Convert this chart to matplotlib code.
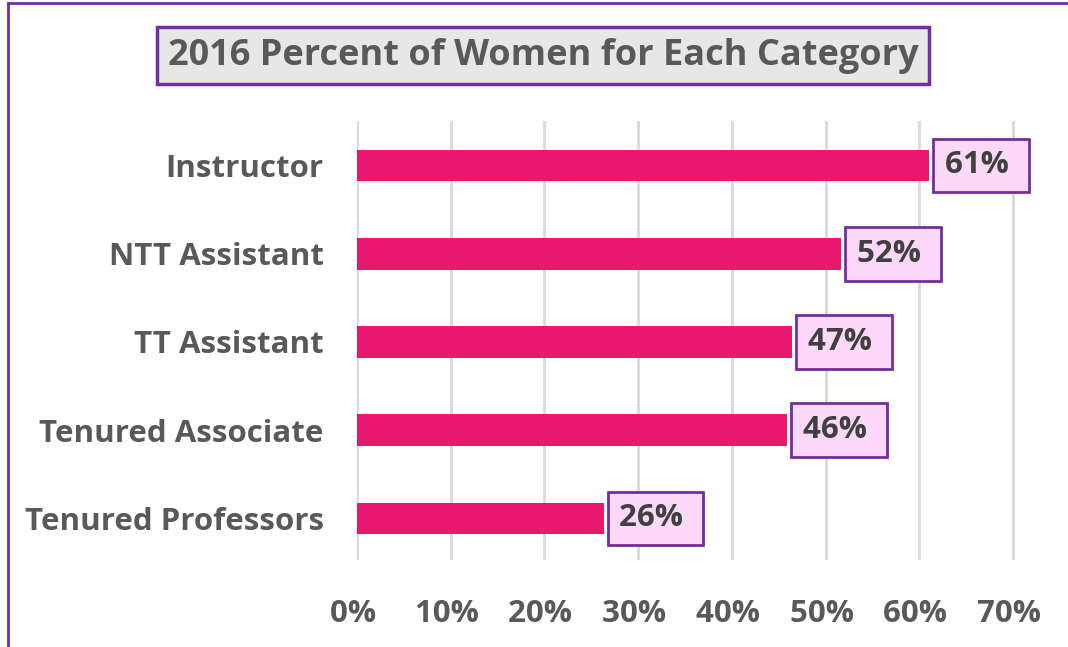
import matplotlib.pyplot as plt
from matplotlib.lines import Line2D

categories = ["Tenured Professors", "Tenured Associate", "TT Assistant", "NTT Assistant", "Instructor"]
values = [26.3, 45.9, 46.4, 51.6, 61.0]
value_labels = ["26% ", "46% ", "47% ", "52% ", "61% "]
ticks = [0, 10, 20, 30, 40, 50, 60, 70]
tick_labels = ["0% ", "10% ", "20% ", "30% ", "40% ", "50% ", "60% ", "70% "]
title = "2016 Percent of Women for Each Category"

plt.rcParams['font.family'] = ['Open Sans', 'DejaVu Sans']

fig = plt.figure(figsize=(10.68, 6.47), dpi=100)
ax = fig.add_axes([0.3343, 0.1345, 0.616, 0.678])

ypos = list(range(len(categories)))
ax.barh(ypos, values, height=0.36, color="#e8186e", zorder=3)

ax.set_xlim(0, 70.2)
ax.set_ylim(-0.47, 4.5)
ax.set_xticks(ticks)
ax.set_xticklabels(tick_labels, fontsize=22.5, fontweight="bold", color="#595959")
ax.set_yticks(ypos)
ax.set_yticklabels(categories, fontsize=22.5, fontweight="bold", color="#595959")
ax.tick_params(axis="x", length=0, pad=28)
ax.tick_params(axis="y", length=0, pad=24)
ax.grid(axis="x", color="#d9d9d9", linewidth=2, zorder=0)
for s in ax.spines.values():
    s.set_visible(False)

# value labels in boxes
for y, v, lab in zip(ypos, values, value_labels):
    ax.text(v + 1.7, y, lab, va="center", ha="left", fontsize=22.5, fontweight="bold",
            color="#404040", zorder=4,
            bbox=dict(boxstyle="square,pad=0.38", facecolor="#fdd9f9",
                      edgecolor="#7030a0", linewidth=2))

# title in a gray box
fig.text(0.5085, 0.914, title, ha="center", va="center", fontsize=26, fontweight="bold",
         color="#595959",
         bbox=dict(boxstyle="square,pad=0.3", facecolor="#e7e7e7",
                   edgecolor="#7030a0", linewidth=2.5))

# purple outer border (cropped on the right and bottom)
fig.add_artist(Line2D([0.0075, 0.0075], [0, 0.995], color="#7030a0", linewidth=2,
                      transform=fig.transFigure))
fig.add_artist(Line2D([0.0075, 1], [0.995, 0.995], color="#7030a0", linewidth=2,
                      transform=fig.transFigure))

fig.savefig("out.png", dpi=100)
